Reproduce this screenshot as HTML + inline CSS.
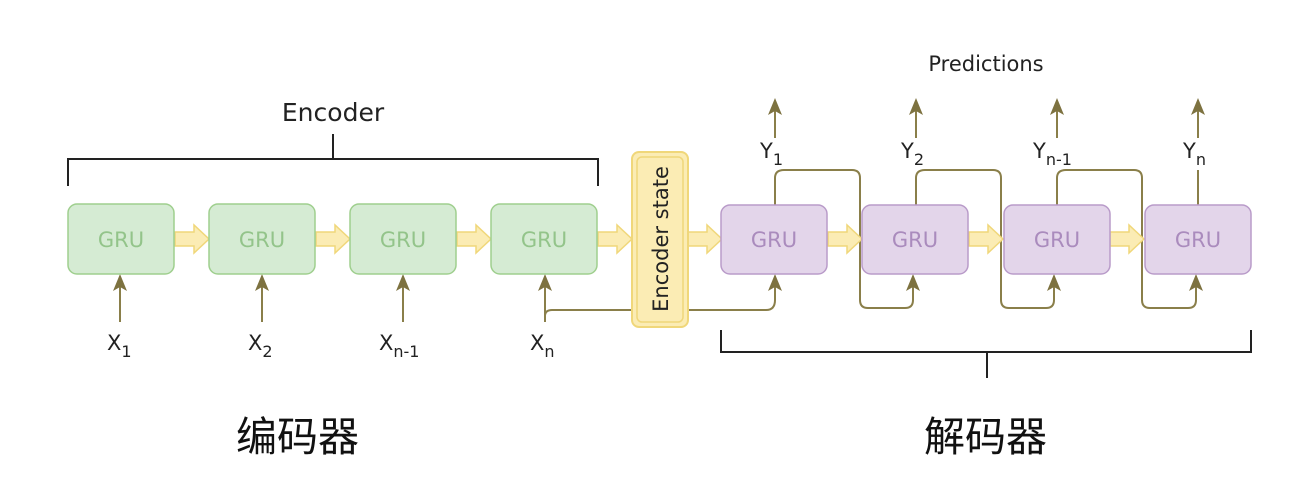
<!DOCTYPE html>
<html><head><meta charset="utf-8"><style>
html,body{margin:0;padding:0;background:#fff;width:1309px;height:501px;overflow:hidden}
svg{display:block}
text{font-family:"DejaVu Sans","Liberation Sans",sans-serif}
</style></head><body>
<svg width="1309" height="501" viewBox="0 0 1309 501" xmlns="http://www.w3.org/2000/svg">
<defs>
<g id="bar">
<path d="M0,-7 L19,-7 L19,-14 L34,0 L19,14 L19,7 L0,7 Z" fill="#fbecb4" stroke="#f0d77a" stroke-width="1.5"/>
</g>
<g id="up"><path d="M0,0 L-7,17 L0,13 L7,17 Z" fill="#7d7240"/></g>
</defs>
<g fill="none" stroke="#222" stroke-width="2">
<path d="M68,186 V159 H598 V186 M333,159 V134"/>
<path d="M721,330 V352 H1251 V330 M987,352 V378"/>
</g>
<text x="333" y="121" font-size="25" text-anchor="middle" fill="#222">Encoder</text>
<text x="986" y="71" font-size="21" text-anchor="middle" fill="#222">Predictions</text>
<g fill="none" stroke="#8a7f4a" stroke-width="2">
<path d="M120,322 V280 M262,322 V280 M403,322 V280 M545,322 V280"/>
<path d="M545,320 V316 Q545,310 552,310 H766 Q775,310 775,300 V280"/>
<path d="M775,205 V178 Q775,170 784,170 H852 Q860,170 860,178 V300 Q860,308 868,308 H905 Q913,308 913,300 V280"/>
<path d="M916,205 V178 Q916,170 925,170 H993 Q1001,170 1001,178 V300 Q1001,308 1009,308 H1046 Q1054,308 1054,300 V280"/>
<path d="M1057,205 V178 Q1057,170 1066,170 H1134 Q1142,170 1142,178 V300 Q1142,308 1150,308 H1188 Q1196,308 1196,300 V280"/>
<path d="M1198,205 V170"/>
<path d="M775,138 V106 M916,138 V106 M1057,138 V106 M1198,138 V106"/>
</g>
<g>
<use href="#up" x="120" y="274"/><use href="#up" x="262" y="274"/><use href="#up" x="403" y="274"/><use href="#up" x="545" y="274"/>
<use href="#up" x="775" y="274"/><use href="#up" x="913" y="274"/><use href="#up" x="1054" y="274"/><use href="#up" x="1196" y="274"/>
<use href="#up" x="775" y="98"/><use href="#up" x="916" y="98"/><use href="#up" x="1057" y="98"/><use href="#up" x="1198" y="98"/>
</g>
<use href="#bar" x="175" y="239"/><use href="#bar" x="316" y="239"/><use href="#bar" x="457" y="239"/><use href="#bar" x="598" y="239"/>
<use href="#bar" x="688" y="239"/><use href="#bar" x="828" y="239"/><use href="#bar" x="969" y="239"/><use href="#bar" x="1110" y="239"/>
<g fill="#d5ebd3" stroke="#9fcf8e" stroke-width="1.5">
<rect x="68" y="204" width="106" height="70" rx="9"/>
<rect x="209" y="204" width="106" height="70" rx="9"/>
<rect x="350" y="204" width="106" height="70" rx="9"/>
<rect x="491" y="204" width="106" height="70" rx="9"/>
</g>
<g font-size="21" fill="#93c48a" text-anchor="middle">
<text x="121" y="247">GRU</text><text x="262" y="247">GRU</text><text x="403" y="247">GRU</text><text x="544" y="247">GRU</text>
</g>
<rect x="632" y="152" width="56" height="175" rx="7" fill="#fbecb4" stroke="#f0d77a" stroke-width="2"/>
<rect x="637" y="157" width="46" height="165" rx="5" fill="none" stroke="#f0d77a" stroke-width="1.5"/>
<text transform="translate(668,239) rotate(-90)" font-size="21" text-anchor="middle" fill="#222">Encoder state</text>
<g fill="#e3d5ea" stroke="#b99bc9" stroke-width="1.5">
<rect x="721" y="205" width="106" height="69" rx="9"/>
<rect x="862" y="205" width="106" height="69" rx="9"/>
<rect x="1004" y="205" width="106" height="69" rx="9"/>
<rect x="1145" y="205" width="106" height="69" rx="9"/>
</g>
<g font-size="21" fill="#aa8bbd" text-anchor="middle">
<text x="774" y="247">GRU</text><text x="915" y="247">GRU</text><text x="1057" y="247">GRU</text><text x="1198" y="247">GRU</text>
</g>
<g font-size="21" fill="#222">
<text x="107" y="350">X<tspan font-size="16" dy="7">1</tspan></text>
<text x="248" y="350">X<tspan font-size="16" dy="7">2</tspan></text>
<text x="379" y="350">X<tspan font-size="16" dy="7">n-1</tspan></text>
<text x="530" y="350">X<tspan font-size="16" dy="7">n</tspan></text>
<text x="760" y="158">Y<tspan font-size="16" dy="7">1</tspan></text>
<text x="901" y="158">Y<tspan font-size="16" dy="7">2</tspan></text>
<text x="1033" y="158">Y<tspan font-size="16" dy="7">n-1</tspan></text>
<text x="1183" y="158">Y<tspan font-size="16" dy="7">n</tspan></text>
</g>
<g font-size="41" fill="#111">
<text x="236" y="451" style="font-family:'Noto Sans CJK SC',sans-serif">编码器</text>
<text x="924" y="451" style="font-family:'Noto Sans CJK SC',sans-serif">解码器</text>
</g>
</svg>
</body></html>
